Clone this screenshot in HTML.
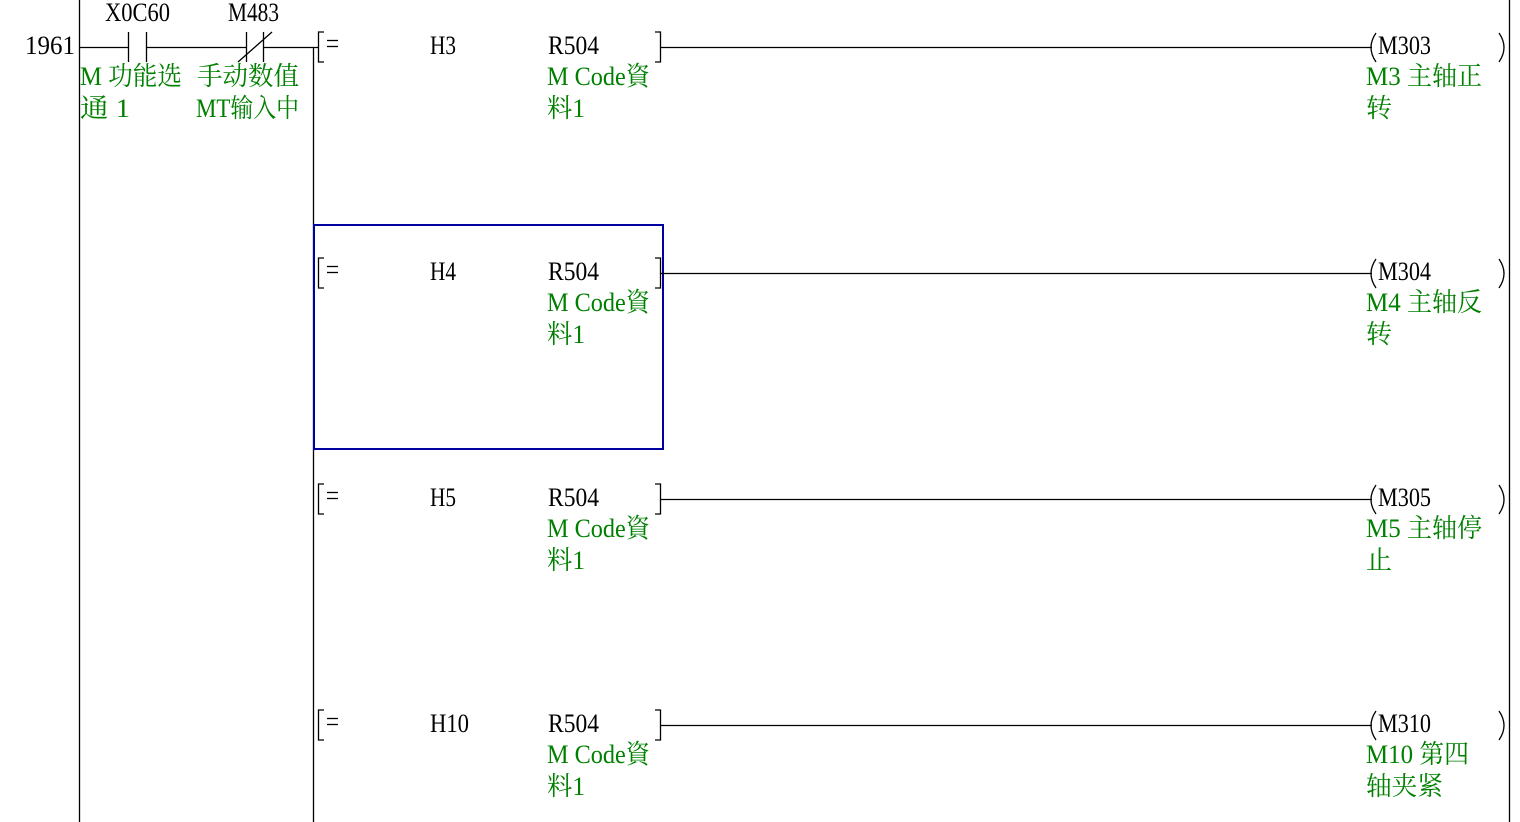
<!DOCTYPE html>
<html><head><meta charset="utf-8"><style>
html,body{margin:0;padding:0;background:#fff;width:1520px;height:822px;overflow:hidden}
text{font-family:"Liberation Serif","Noto Serif CJK SC",serif;font-size:26px}
.g{fill:#008000}
</style></head><body>
<svg width="1520" height="822" viewBox="0 0 1520 822" xmlns="http://www.w3.org/2000/svg">
<g stroke="#000" stroke-width="1.3" fill="none">
<line x1="79.5" y1="0" x2="79.5" y2="822"/>
<line x1="1509.5" y1="0" x2="1509.5" y2="822"/>
<line x1="313.5" y1="47" x2="313.5" y2="822"/>
<line x1="79" y1="47.5" x2="128" y2="47.5"/>
<line x1="128.5" y1="32" x2="128.5" y2="62"/>
<line x1="146.5" y1="32" x2="146.5" y2="62"/>
<line x1="146" y1="47.5" x2="246" y2="47.5"/>
<line x1="246.5" y1="32" x2="246.5" y2="62"/>
<line x1="263.5" y1="32" x2="263.5" y2="62"/>
<line x1="238" y1="62" x2="272" y2="32"/>
<line x1="263" y1="47.5" x2="319" y2="47.5"/>
</g>
<rect x="314" y="225" width="349" height="224" fill="none" stroke="#0000a0" stroke-width="2"/>
<text x="25" y="54" textLength="50" lengthAdjust="spacingAndGlyphs">1961</text>
<text x="105" y="21" textLength="65" lengthAdjust="spacingAndGlyphs">X0C60</text>
<text x="228" y="21" textLength="51" lengthAdjust="spacingAndGlyphs">M483</text>
<text class="g" x="80" y="85" textLength="102" lengthAdjust="spacingAndGlyphs">M 功能选</text>
<text class="g" x="80" y="117" textLength="50" lengthAdjust="spacingAndGlyphs">通 1</text>
<text class="g" x="197" y="85" textLength="102" lengthAdjust="spacingAndGlyphs">手动数值</text>
<text class="g" x="196" y="117" textLength="103" lengthAdjust="spacingAndGlyphs">MT输入中</text>

<g id="r0">
<path d="M324 32 H318.5 V62 H324 M655 32 H660.5 V62 H655" stroke="#000" stroke-width="1.3" fill="none"/>
<line x1="327" y1="40.5" x2="338" y2="40.5" stroke="#000" stroke-width="1.3"/>
<line x1="327" y1="46.5" x2="338" y2="46.5" stroke="#000" stroke-width="1.3"/>
<line x1="660" y1="47.5" x2="1372" y2="47.5" stroke="#000" stroke-width="1.3"/>
<path d="M1376 33 Q1366 47.5 1376 62 M1499 33 Q1509 47.5 1499 62" stroke="#000" stroke-width="1.3" fill="none"/>
<text x="548" y="54" textLength="51" lengthAdjust="spacingAndGlyphs">R504</text>
<text class="g" x="547" y="85" textLength="103" lengthAdjust="spacingAndGlyphs">M Code資</text>
<text class="g" x="547" y="117" textLength="38" lengthAdjust="spacingAndGlyphs">料1</text>
</g>
<text x="430" y="54" textLength="26" lengthAdjust="spacingAndGlyphs">H3</text>
<text x="1378" y="54" textLength="53" lengthAdjust="spacingAndGlyphs">M303</text>
<text class="g" x="1366" y="85" textLength="116" lengthAdjust="spacingAndGlyphs">M3 主轴正</text>
<text class="g" x="1366" y="117">转</text>

<use href="#r0" y="226"/>
<text x="430" y="280" textLength="26" lengthAdjust="spacingAndGlyphs">H4</text>
<text x="1378" y="280" textLength="53" lengthAdjust="spacingAndGlyphs">M304</text>
<text class="g" x="1366" y="311" textLength="116" lengthAdjust="spacingAndGlyphs">M4 主轴反</text>
<text class="g" x="1366" y="343">转</text>

<use href="#r0" y="452"/>
<text x="430" y="506" textLength="26" lengthAdjust="spacingAndGlyphs">H5</text>
<text x="1378" y="506" textLength="53" lengthAdjust="spacingAndGlyphs">M305</text>
<text class="g" x="1366" y="537" textLength="116" lengthAdjust="spacingAndGlyphs">M5 主轴停</text>
<text class="g" x="1366" y="569">止</text>

<use href="#r0" y="678"/>
<text x="430" y="732" textLength="39" lengthAdjust="spacingAndGlyphs">H10</text>
<text x="1378" y="732" textLength="53" lengthAdjust="spacingAndGlyphs">M310</text>
<text class="g" x="1366" y="763" textLength="103" lengthAdjust="spacingAndGlyphs">M10 第四</text>
<text class="g" x="1366" y="795" textLength="77" lengthAdjust="spacingAndGlyphs">轴夹紧</text>
</svg>
</body></html>
